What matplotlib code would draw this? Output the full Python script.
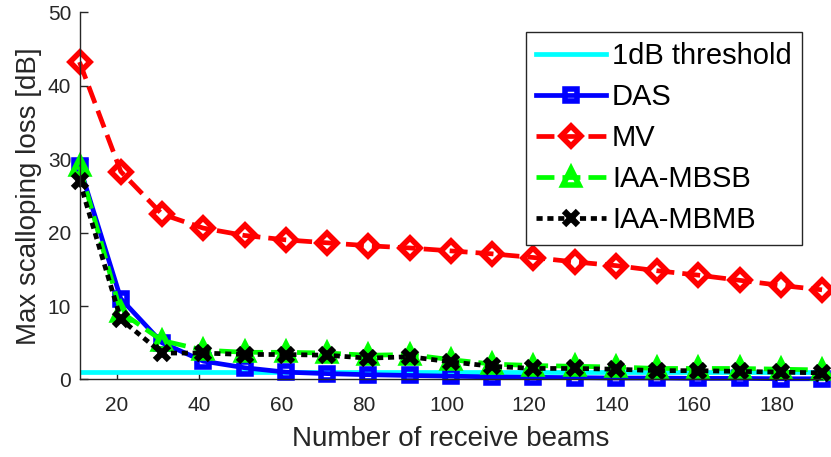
import matplotlib.pyplot as plt
import numpy as np
import matplotlib as mpl

mpl.rcParams["font.family"] = ["Liberation Sans", "DejaVu Sans"]

# receive beams and max scalloping loss [dB]
beams = [11, 21, 31, 41, 51, 61, 71, 81, 91, 101, 111, 121, 131, 141, 151, 161, 171, 181, 191]
threshold = [1] * len(beams)
das = [29.0, 11.0, 5.0, 2.5, 1.6, 1.0, 0.8, 0.65, 0.55, 0.45, 0.35, 0.3, 0.25, 0.2, 0.2, 0.15, 0.15, 0.1, 0.1]
mv = [43.2, 28.3, 22.5, 20.6, 19.6, 19.0, 18.6, 18.2, 17.9, 17.5, 17.1, 16.6, 16.0, 15.5, 14.8, 14.2, 13.5, 12.8, 12.2]
mbsb = [29.0, 9.2, 5.3, 4.0, 3.7, 3.7, 3.6, 3.3, 3.4, 2.7, 2.1, 1.9, 1.8, 1.7, 1.5, 1.5, 1.5, 1.4, 1.3]
mbmb = [27.0, 8.2, 3.6, 3.6, 3.4, 3.4, 3.3, 2.9, 3.1, 2.4, 1.8, 1.5, 1.5, 1.4, 1.2, 1.2, 1.1, 1.0, 0.9]

fig = plt.figure(figsize=(8.31, 4.57), dpi=100)
ax = fig.add_axes([0.0957, 0.1696, 0.8935, 0.804])

lw = 3.4
ax.plot(beams, threshold, "-", color="#00ffff", lw=lw, label="1dB threshold")
ax.plot(beams, das, "-", color="#0000ff", lw=lw, marker="s", ms=9, mew=4,
        mfc="none", label="DAS", clip_on=False)
ax.plot(beams, mv, "--", color="#ff0000", lw=lw, marker="D", ms=10.5, mew=4,
        mfc="none", dashes=(3.8, 1.7), label="MV", clip_on=False)
ax.plot(beams, mbsb, "--", color="#00ff00", lw=lw, marker="^", ms=11, mew=4,
        mfc="none", dashes=(3.8, 1.7), label="IAA-MBSB", clip_on=False)
ax.plot(beams, mbmb, ":", color="black", lw=lw, marker="x", ms=10, mew=4.5,
        dashes=(1.3, 1.0), dash_capstyle="butt", label="IAA-MBMB", clip_on=False)

ax.set_xlim(11, 191)
ax.set_ylim(0, 50)
ax.set_xticks(np.arange(20, 181, 20))
ax.set_yticks(np.arange(0, 51, 10))

gray = "#262626"
for s in ["top", "right"]:
    ax.spines[s].set_visible(False)
for s in ["left", "bottom"]:
    ax.spines[s].set_color(gray)
    ax.spines[s].set_linewidth(1)
ax.tick_params(direction="in", length=6, width=1, colors=gray, labelsize=15)
ax.tick_params(axis="x", pad=12)
ax.tick_params(axis="y", pad=6)

ax.set_xlabel("Number of receive beams", fontsize=20, color=gray, labelpad=8)
ax.set_ylabel("Max scalloping loss [dB]", fontsize=20, color=gray, labelpad=4)

leg = ax.legend(loc="upper right", bbox_to_anchor=(802 / 831, 1 - 31.7 / 457),
                bbox_transform=fig.transFigure, fontsize=21, handlelength=2.4,
                handletextpad=0.2, labelspacing=0.45, borderpad=0.35,
                borderaxespad=0, fancybox=False, framealpha=1, edgecolor=gray)
leg.get_frame().set_linewidth(1)

plt.savefig("out.png", dpi=100)
